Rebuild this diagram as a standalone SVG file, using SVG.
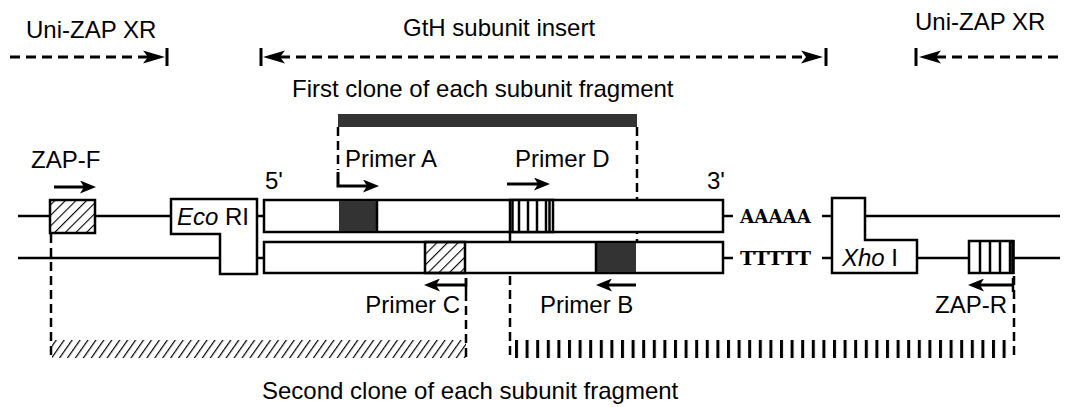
<svg xmlns="http://www.w3.org/2000/svg" width="1065" height="407" viewBox="0 0 1065 407">
<style>
.t{font-family:"Liberation Sans",Arial,sans-serif;font-size:24px;fill:#000}
.m{font-family:"DejaVu Serif","Liberation Serif",serif;font-size:19px;font-weight:bold;fill:#000}
.ln{stroke:#000;stroke-width:2.5;fill:none}
.box{stroke:#000;stroke-width:2.5;fill:#fff}
.dim{stroke:#000;stroke-width:3;stroke-dasharray:10 6;fill:none}
.bar{stroke:#000;stroke-width:3}
.vd{stroke:#000;stroke-width:2.5;stroke-dasharray:9 5;fill:none}
.pr{stroke:#000;stroke-width:3;fill:none;marker-end:url(#pa)}
.dark{fill:#333}
</style>
<defs>
<marker id="pa" markerUnits="userSpaceOnUse" markerWidth="17" markerHeight="13" refX="4" refY="6.5" orient="auto" viewBox="0 0 17 13">
<path d="M0,0 L16,6.5 L0,13 L4,6.5 Z" fill="#000"/>
</marker>
<marker id="da" markerUnits="userSpaceOnUse" markerWidth="23" markerHeight="14" refX="5" refY="7" orient="auto-start-reverse" viewBox="0 0 23 14">
<path d="M0,0.5 L22,7 L0,13.5 L5,7 Z" fill="#000"/>
</marker>
<pattern id="hatch" patternUnits="userSpaceOnUse" width="7.5" height="8" patternTransform="rotate(45)">
<line x1="0" y1="0" x2="0" y2="8" stroke="#000" stroke-width="2.2"/>
</pattern>
<pattern id="hatch2" patternUnits="userSpaceOnUse" width="6.5" height="7" patternTransform="rotate(35)">
<line x1="0" y1="0" x2="0" y2="7" stroke="#000" stroke-width="2.4"/>
</pattern>
<pattern id="vstripe" patternUnits="userSpaceOnUse" x="515" y="0" width="10.6" height="10">
<rect x="0" y="0" width="3" height="10" fill="#000"/>
</pattern>
</defs>

<g id="dimensions">
<path class="dim" d="M10,57 H148" marker-end="url(#da)"/>
<line class="bar" x1="167" y1="48" x2="167" y2="66"/>
<line class="bar" x1="261" y1="48" x2="261" y2="66"/>
<path class="dim" d="M280,57 H806" marker-start="url(#da)" marker-end="url(#da)"/>
<line class="bar" x1="826" y1="48" x2="826" y2="66"/>
<line class="bar" x1="916" y1="48" x2="916" y2="66"/>
<path class="dim" d="M1058,57 H936" marker-end="url(#da)"/>
<text class="t" x="26" y="38">Uni-ZAP XR</text>
<text class="t" x="403" y="36">GtH subunit insert</text>
<text class="t" x="915" y="30">Uni-ZAP XR</text>
</g>

<g id="first-clone">
<text class="t" x="292" y="97">First clone of each subunit fragment</text>
<rect class="dark" x="338" y="114" width="299" height="13"/>
</g>

<g id="connectors">
<line class="ln" x1="18" y1="216" x2="50" y2="216"/>
<line class="ln" x1="95" y1="216" x2="171" y2="216"/>
<line class="ln" x1="18" y1="258" x2="220" y2="258"/>
<line class="ln" x1="257" y1="216" x2="264" y2="216"/>
<line class="ln" x1="257" y1="258" x2="264" y2="258"/>
<line class="ln" x1="723" y1="216" x2="733" y2="216"/>
<line class="ln" x1="822" y1="216" x2="832" y2="216"/>
<line class="ln" x1="723" y1="258" x2="733" y2="258"/>
<line class="ln" x1="822" y1="258" x2="832" y2="258"/>
<line class="ln" x1="865" y1="216" x2="1060" y2="216"/>
<line class="ln" x1="917" y1="258" x2="969" y2="258"/>
<line class="ln" x1="1013" y1="258" x2="1060" y2="258"/>
<line class="ln" x1="510" y1="232" x2="510" y2="242"/>
<path class="vd" d="M338,127 V170"/>
<path class="vd" d="M637,127 V274"/>
<path class="vd" d="M51,234 V358"/>
<path class="vd" d="M466,278 V358"/>
<path class="vd" d="M510,276 V358"/>
<path class="vd" d="M1014,276 V358"/>
</g>

<g id="zap-f">
<rect x="50" y="200" width="45" height="33" fill="url(#hatch)" stroke="#000" stroke-width="2.5"/>
<path class="pr" d="M54,187 H84"/>
<text class="t" x="31" y="168">ZAP-F</text>
</g>

<g id="eco-ri">
<path class="box" d="M171,199 H257 V274 H220 V234 H171 Z"/>
<text class="t" x="177" y="225"><tspan font-style="italic">Eco</tspan> RI</text>
</g>

<g id="upper-strand">
<rect class="box" x="264" y="200" width="459" height="32"/>
<rect class="dark" x="339" y="201" width="38" height="30"/>
<line class="ln" x1="377" y1="200" x2="377" y2="232"/>
<rect class="box" x="510" y="200" width="43" height="32"/>
<g class="ln">
<line x1="512.5" y1="200" x2="512.5" y2="232"/>
<line x1="519" y1="200" x2="519" y2="232"/>
<line x1="528" y1="200" x2="528" y2="232"/>
<line x1="537" y1="200" x2="537" y2="232"/>
<line x1="546" y1="200" x2="546" y2="232"/>
<line x1="549.5" y1="200" x2="549.5" y2="232"/>
</g>
<text class="t" x="265" y="189">5'</text>
<text class="t" x="707" y="189">3'</text>
<text class="m" x="740" y="223" textLength="71" lengthAdjust="spacingAndGlyphs">AAAAA</text>
</g>

<g id="lower-strand">
<rect class="box" x="264" y="242" width="459" height="31"/>
<rect x="425" y="242" width="40" height="31" fill="url(#hatch)" stroke="#000" stroke-width="2.5"/>
<rect class="dark" x="596" y="243" width="40" height="29"/>
<line class="ln" x1="596" y1="242" x2="596" y2="273"/>
<text class="m" x="740" y="265" textLength="71" lengthAdjust="spacingAndGlyphs">TTTTT</text>
</g>

<g id="primer-a">
<path class="pr" d="M338,172 V186 H367"/>
<text class="t" x="345" y="167">Primer A</text>
</g>

<g id="primer-d">
<path class="pr" d="M507,184 H538"/>
<text class="t" x="515" y="167">Primer D</text>
</g>

<g id="primer-c">
<path class="pr" d="M466,285 H436"/>
<line class="ln" x1="466" y1="278" x2="466" y2="292"/>
<text class="t" x="460" y="313" text-anchor="end">Primer C</text>
</g>

<g id="primer-b">
<path class="pr" d="M636,285 H608"/>
<text class="t" x="540" y="313">Primer B</text>
</g>

<g id="xho-i">
<path class="box" d="M832,198 H865 V240 H917 V273 H832 Z"/>
<text class="t" x="842" y="266"><tspan font-style="italic">Xho</tspan> I</text>
</g>

<g id="zap-r">
<rect class="box" x="969" y="241" width="44" height="32"/>
<g class="ln">
<line x1="980" y1="241" x2="980" y2="273"/>
<line x1="990" y1="241" x2="990" y2="273"/>
<line x1="1000" y1="241" x2="1000" y2="273"/>
<line x1="1010" y1="241" x2="1010" y2="273"/>
</g>
<line x1="1013" y1="240" x2="1013" y2="274" stroke="#000" stroke-width="3.5"/>
<path class="pr" d="M1012,285 H980"/>
<line class="ln" x1="1013" y1="278" x2="1013" y2="292"/>
<text class="t" x="1007" y="313" text-anchor="end">ZAP-R</text>
</g>

<g id="second-clone">
<rect x="52" y="340" width="414" height="18" fill="url(#hatch2)"/>
<rect x="515" y="340" width="498" height="18" fill="url(#vstripe)"/>
<text class="t" x="262" y="399">Second clone of each subunit fragment</text>
</g>
</svg>
